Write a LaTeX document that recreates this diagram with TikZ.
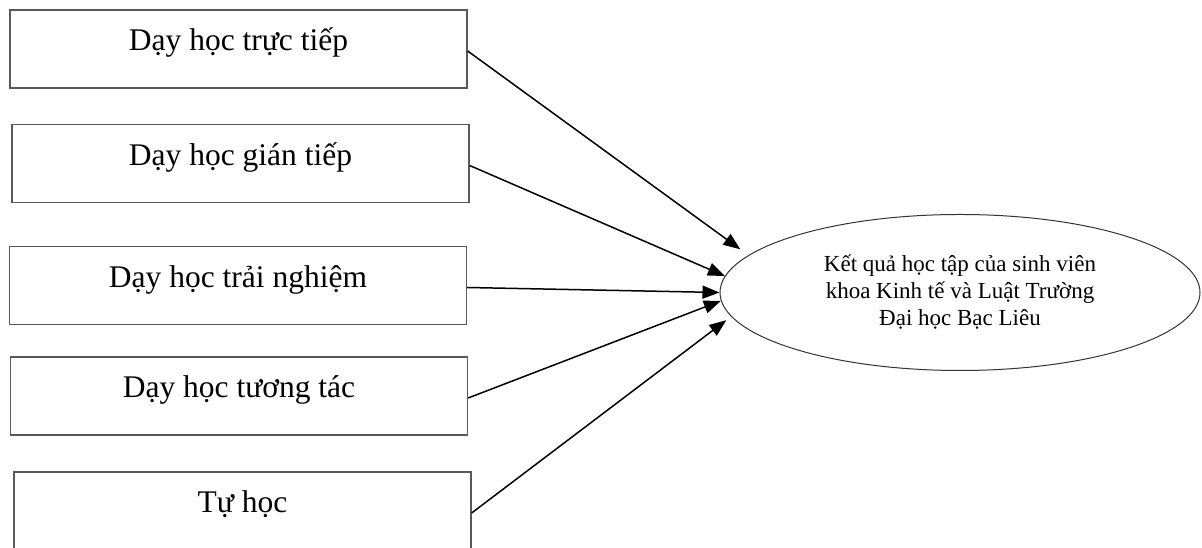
\documentclass[tikz,border=0pt]{standalone}
\usepackage{fontspec}
\setmainfont{Liberation Serif}
\usetikzlibrary{shapes.geometric,arrows.meta}
\begin{document}
\begin{tikzpicture}[x=1pt,y=1pt,
	hinhthuc/.style={draw=black!65,line width=1.3pt,rectangle,inner sep=0pt,minimum width=457pt,text height=41pt,text depth=37pt,font=\fontsize{31.5}{36}\selectfont},
	ketqua/.style={draw=black!80,line width=1pt,ellipse,inner sep=0pt,minimum width=480pt,minimum height=156pt,align=center,font=\fontsize{23}{27}\selectfont},
	muiten/.style={line width=1.5pt,-{Triangle[length=17pt,width=13pt]}}]
	\clip (0,0) rectangle (1202,548);
	\node[hinhthuc] (tructiep) at (238.5,499) {Dạy học trực tiếp};
	\node[hinhthuc] (giantiep) at (240.5,384.5) {Dạy học gián tiếp};
	\node[hinhthuc] (trainghiem) at (238,262.5) {Dạy học trải nghiệm};
	\node[hinhthuc] (tuongtac) at (239,152) {Dạy học tương tác};
	\node[hinhthuc] (tuhoc) at (242.5,37) {Tự học};
	\node[ketqua] (kq) at (960,255.5) {Kết quả học tập của sinh viên\\khoa Kinh tế và Luật Trường\\Đại học Bạc Liêu};
	\draw[muiten,shorten >=10pt] (tructiep.base east) -- (kq.170.7);
	\draw[muiten] (giantiep.base east) -- (kq.176);
	\draw[muiten] (trainghiem.base east) -- (kq.180);
	\draw[muiten] (tuongtac.base east) -- (kq.182.4);
	\draw[muiten,shorten >=6pt] (tuhoc.base east) -- (kq.186);
\end{tikzpicture}
\end{document}
